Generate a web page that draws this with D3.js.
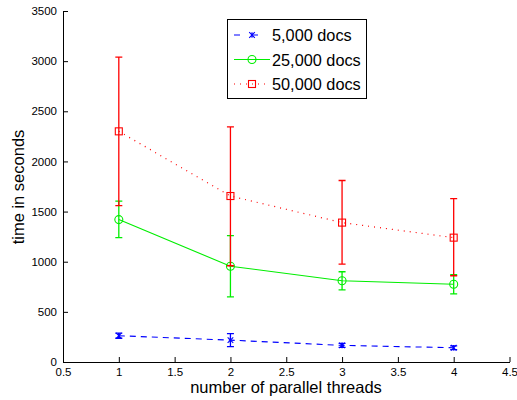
<!DOCTYPE html>
<html><head><meta charset="utf-8">
<script src="https://cdn.jsdelivr.net/npm/d3@7"></script>
<style>body{margin:0;background:#fff}text{font-family:"Liberation Sans",Arial,sans-serif}</style>
</head><body><svg id="c" width="517" height="400"></svg>
<script>
const threads = [1, 2, 3, 4];
const seriesNames = ["5,000 docs", "25,000 docs", "50,000 docs"];
const docs5k = [262, 218, 166, 142];
const docs5kErr = [25, 65, 20, 18];
const docs25kMean = [1420, 955, 810, 775];
const docs25kLow = [1240, 650, 720, 680];
const docs25kHigh = [1605, 1260, 900, 870];
const docs50kMean = [2300, 1655, 1390, 1240];
const docs50kLow = [1560, 960, 975, 860];
const docs50kHigh = [3040, 2345, 1810, 1630];
const xTicks = [0.5, 1, 1.5, 2, 2.5, 3, 3.5, 4, 4.5];
const yTicks = [0, 500, 1000, 1500, 2000, 2500, 3000, 3500];

const svg = d3.select("#c");
const x = d3.scaleLinear().domain([0.5, 4.5]).range([63, 509.5]);
const y = d3.scaleLinear().domain([0, 3500]).range([362, 11]);

const series = [
  {name: seriesNames[0], color: "#0000ff", dash: "6,5", marker: "star",
   mean: docs5k, low: docs5k.map((v,i)=>v-docs5kErr[i]), high: docs5k.map((v,i)=>v+docs5kErr[i])},
  {name: seriesNames[1], color: "#00ee00", dash: null, marker: "circle",
   mean: docs25kMean, low: docs25kLow, high: docs25kHigh},
  {name: seriesNames[2], color: "#ff0000", dash: "1,5", marker: "square",
   mean: docs50kMean, low: docs50kLow, high: docs50kHigh}
];

// axes
const xAxis = d3.axisBottom(x).tickValues(xTicks).tickSizeInner(-5).tickSizeOuter(0).tickPadding(7).tickFormat(d3.format("~g"));
const yAxis = d3.axisLeft(y).tickValues(yTicks).tickSizeInner(-5).tickSizeOuter(0).tickPadding(6).tickFormat(d3.format("d"));
const gx = svg.append("g").attr("transform","translate(0,362)").call(xAxis);
const gy = svg.append("g").attr("transform","translate(63,0)").call(yAxis);
[gx, gy].forEach(g => {
  g.selectAll("text").attr("font-size", 11.5).attr("fill","#000").style("font-family","Liberation Sans, Arial, sans-serif");
  g.selectAll("line,path").attr("stroke","#000");
});
gx.selectAll("text").attr("dy","0.6em");

function drawMarker(g, type, cx, cy, color) {
  if (type === "circle") {
    g.append("circle").attr("cx",cx).attr("cy",cy).attr("r",4).attr("fill","none").attr("stroke",color).attr("stroke-width",1.1);
  } else if (type === "square") {
    g.append("rect").attr("x",cx-3.5).attr("y",cy-3.5).attr("width",7).attr("height",7).attr("fill","none").attr("stroke",color).attr("stroke-width",1.1);
  } else {
    const s = 2.8;
    g.append("path").attr("d",`M${cx-s},${cy-s}L${cx+s},${cy+s}M${cx-s},${cy+s}L${cx+s},${cy-s}M${cx},${cy-s}L${cx},${cy+s}`)
      .attr("stroke",color).attr("stroke-width",1.1).attr("fill","none");
  }
}

const line = d3.line().x(d=>x(d[0])).y(d=>y(d[1]));
series.forEach(s => {
  const g = svg.append("g");
  const pts = threads.map((t,i)=>[t, s.mean[i]]);
  g.append("path").attr("d", line(pts)).attr("fill","none").attr("stroke",s.color)
    .attr("stroke-width", s.dash === "1,5" ? 1.2 : 1.1).attr("stroke-dasharray", s.dash);
  threads.forEach((t,i) => {
    const cx = x(t);
    g.append("path").attr("d",`M${cx},${y(s.low[i])}L${cx},${y(s.high[i])}M${cx-3.5},${y(s.low[i])}L${cx+3.5},${y(s.low[i])}M${cx-3.5},${y(s.high[i])}L${cx+3.5},${y(s.high[i])}`)
      .attr("stroke", s.color).attr("stroke-width",1.3).attr("fill","none");
    drawMarker(g, s.marker, cx, y(s.mean[i]), s.color);
  });
});

// legend
const lg = svg.append("g");
lg.append("rect").attr("x",227.5).attr("y",19.5).attr("width",139).attr("height",79).attr("fill","#fff").attr("stroke","#000");
series.forEach((s,i) => {
  const ly = 35 + i*24.5;
  lg.append("path").attr("d",`M234,${ly}L270,${ly}`).attr("stroke",s.color).attr("stroke-width",1.1)
    .attr("stroke-dasharray", s.dash === "6,5" ? "6,12" : s.dash).attr("fill","none");
  drawMarker(lg, s.marker, 252, ly, s.color);
  lg.append("text").attr("x",272).attr("y",ly+6).attr("font-size",16.3).text(s.name);
});

// axis labels
svg.append("text").attr("x",286).attr("y",393).attr("text-anchor","middle").attr("font-size",16.5).text("number of parallel threads");
svg.append("text").attr("transform","translate(24,187) rotate(-90)").attr("text-anchor","middle").attr("font-size",16.5).text("time in seconds");
</script></body></html>
